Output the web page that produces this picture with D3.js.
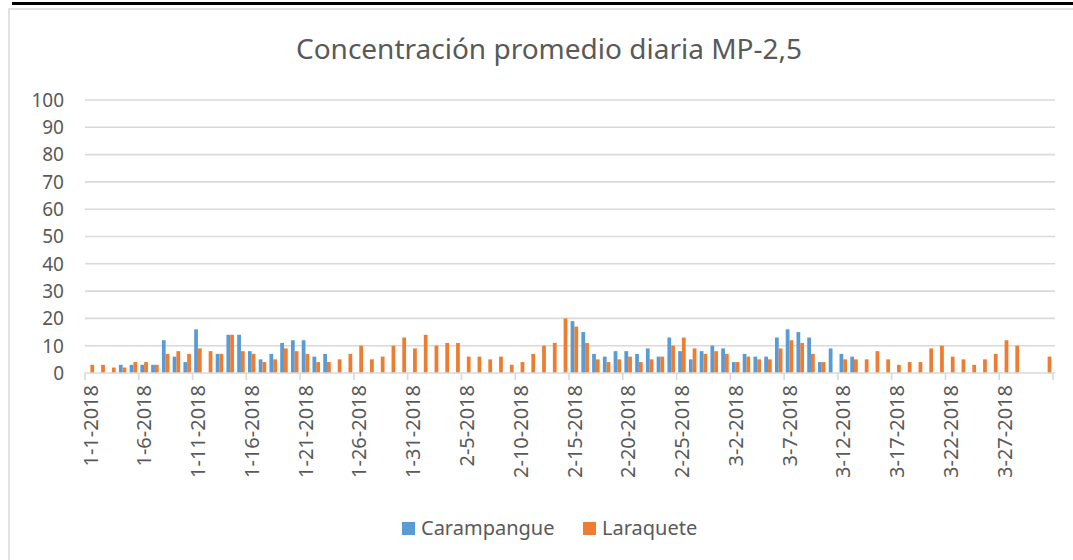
<!DOCTYPE html>
<html>
<head>
<meta charset="utf-8">
<script src="https://cdn.jsdelivr.net/npm/d3@7"></script>
<style>
	body { margin: 0; background: #fff; }
	text { font-family: "Noto Sans", sans-serif; fill: #595959; }
</style>
</head>
<body>
<svg width="1073" height="560"></svg>
<script>
// series names
var seriesNames = ["Carampangue", "Laraquete"];

// daily values, 1-1-2018 .. 3-31-2018 (null = no data)
var carampangue = [
	null, null, null, 3, 3, 3, 3, 12, 6, 4,
	16, null, 7, 14, 14, 8, 5, 7, 11, 12,
	12, 6, 7, null, null, null, null, null, null, null,
	null, null, null, null, null, null, null, null, null, null,
	null, null, null, null, null, 19, 15, 7, 6, 8,
	8, 7, 9, 6, 13, 8, 5, 8, 10, 9,
	4, 7, 6, 6, 13, 16, 15, 13, 4, 9,
	7, 6, null, null, null, null, null, null, null, null,
	null, null, null, null, null, null, null, null, null, null
];
var laraquete = [
	3, 3, 2, 2, 4, 4, 3, 7, 8, 7,
	9, 8, 7, 14, 8, 7, 4, 5, 9, 8,
	7, 4, 4, 5, 7, 10, 5, 6, 10, 13,
	9, 14, 10, 11, 11, 6, 6, 5, 6, 3,
	4, 7, 10, 11, 20, 17, 11, 5, 4, 5,
	6, 4, 5, 6, 10, 13, 9, 7, 8, 7,
	4, 6, 5, 5, 9, 12, 11, 7, 4, null,
	5, 5, 5, 8, 5, 3, 4, 4, 9, 10,
	6, 5, 3, 5, 7, 12, 10, null, null, 6
];

var yTicks = [0, 10, 20, 30, 40, 50, 60, 70, 80, 90, 100];
var title = "Concentración promedio diaria MP-2,5";

var colors = {"Carampangue": "#5b9bd5", "Laraquete": "#ed7d31"};

function drawChart() {
	// categories: one per day
	var fmt = d3.utcFormat("%-m-%-d-%Y");
	var days = d3.utcDay.range(new Date(Date.UTC(2018, 0, 1)), new Date(Date.UTC(2018, 3, 1)));
	var categories = days.map(function(d) { return fmt(d); });

	var data = categories.map(function(c, i) {
		return {cat: c, values: [
			{name: "Carampangue", value: carampangue[i]},
			{name: "Laraquete", value: laraquete[i]}
		]};
	});

	var svg = d3.select("svg");

	// caption rule cut at the top of the picture
	svg.append("rect")
		.attr("x", 12).attr("y", 2)
		.attr("width", 1061).attr("height", 3)
		.attr("fill", "#000");

	// chart frame
	svg.append("rect")
		.attr("x", 9).attr("y", 9)
		.attr("width", 1080).attr("height", 560)
		.attr("fill", "none")
		.attr("stroke", "#d9d9d9")
		.attr("stroke-width", 1.5);

	var plotLeft = 85, plotRight = 1053, plotTop = 100, plotBottom = 373;

	var x = d3.scaleBand()
		.domain(categories)
		.range([plotLeft, plotRight])
		.paddingInner(0.3)
		.paddingOuter(0.15);

	var x1 = d3.scaleBand()
		.domain(seriesNames)
		.range([0, x.bandwidth()]);

	var step = x.step();

	var y = d3.scaleLinear()
		.domain([0, 100])
		.range([plotBottom, plotTop]);

	// title
	svg.append("text")
		.attr("x", 549)
		.attr("y", 59)
		.attr("text-anchor", "middle")
		.style("font-size", "28px")
		.text(title);

	// gridlines
	svg.append("g")
		.attr("class", "grid")
		.selectAll("line")
		.data(yTicks.filter(function(d) { return d > 0; }))
		.join("line")
		.attr("x1", plotLeft).attr("x2", plotRight + 2)
		.attr("y1", function(d) { return y(d); })
		.attr("y2", function(d) { return y(d); })
		.attr("stroke", "#d9d9d9")
		.attr("stroke-width", 1.6);

	// y labels
	svg.append("g")
		.selectAll("text")
		.data(yTicks)
		.join("text")
		.attr("x", 64)
		.attr("y", function(d) { return y(d); })
		.attr("dy", "0.36em")
		.attr("text-anchor", "end")
		.style("font-size", "19px")
		.text(function(d) { return d; });

	// bars
	var groups = svg.append("g")
		.attr("class", "bars")
		.selectAll("g")
		.data(data)
		.join("g")
		.attr("transform", function(d) { return "translate(" + x(d.cat) + ",0)"; });

	groups.selectAll("rect")
		.data(function(d) { return d.values.filter(function(v) { return v.value != null; }); })
		.join("rect")
		.attr("x", function(d) { return x1(d.name); })
		.attr("width", x1.bandwidth())
		.attr("y", function(d) { return y(d.value); })
		.attr("height", function(d) { return y(0) - y(d.value); })
		.attr("fill", function(d) { return colors[d.name]; });

	// x axis line and tick marks every 5 days
	var axis = svg.append("g").attr("class", "axis");
	axis.append("line")
		.attr("x1", plotLeft).attr("x2", plotRight + 2)
		.attr("y1", y(0)).attr("y2", y(0))
		.attr("stroke", "#d9d9d9")
		.attr("stroke-width", 1.6);

	var tickCats = categories.filter(function(c, i) { return i % 5 == 0; });

	axis.selectAll(".tick")
		.data(tickCats.concat(["end"]))
		.join("line")
		.attr("class", "tick")
		.attr("x1", function(d) { return d == "end" ? plotRight : x(d) - step * 0.15; })
		.attr("x2", function(d) { return d == "end" ? plotRight : x(d) - step * 0.15; })
		.attr("y1", y(0)).attr("y2", y(0) + 7)
		.attr("stroke", "#d9d9d9")
		.attr("stroke-width", 1.6);

	axis.selectAll(".label")
		.data(tickCats)
		.join("text")
		.attr("class", "label")
		.attr("transform", function(d) {
			return "translate(" + (x(d) + x.bandwidth() / 2) + "," + (y(0) + 12) + ") rotate(-90)";
		})
		.attr("dy", "0.36em")
		.attr("text-anchor", "end")
		.style("font-size", "20px")
		.text(function(d) { return d; });

	// legend
	var legend = svg.append("g").attr("class", "legend");
	var legendX = [402, 583];
	seriesNames.forEach(function(name, i) {
		legend.append("rect")
			.attr("x", legendX[i]).attr("y", 522)
			.attr("width", 13).attr("height", 13)
			.attr("fill", colors[name]);
		legend.append("text")
			.attr("x", legendX[i] + 19)
			.attr("y", 535)
			.style("font-size", "20px")
			.text(name);
	});
}

drawChart();
</script>
</body>
</html>
